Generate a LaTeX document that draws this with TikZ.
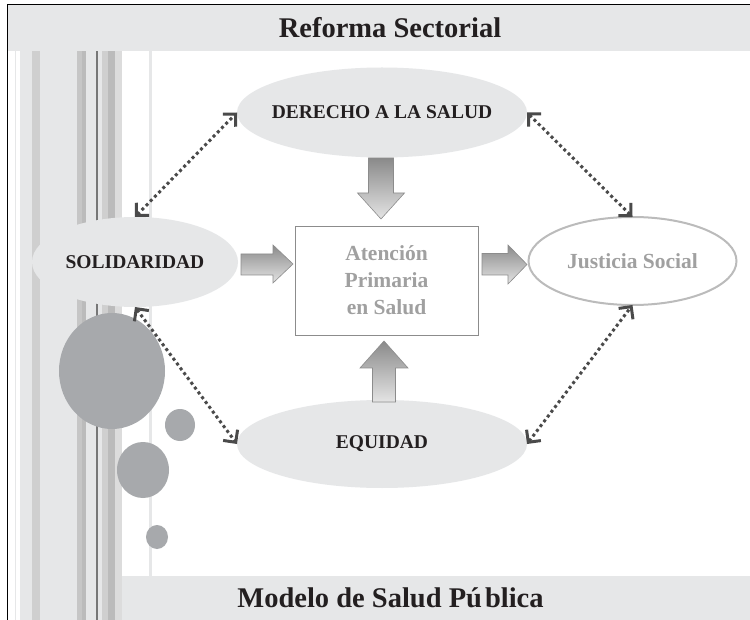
\documentclass[tikz,border=0pt]{standalone}
\usepackage{fontspec}
\setmainfont{Liberation Serif}
\usetikzlibrary{shapes.geometric,arrows.meta}
\definecolor{bg}{HTML}{E6E7E8}
\definecolor{sA}{HTML}{CFCFCF}
\definecolor{sB}{HTML}{C6C6C6}
\definecolor{sC}{HTML}{BBBBBB}
\definecolor{sD}{HTML}{DCDCDC}
\definecolor{dl}{HTML}{777777}
\definecolor{cg}{HTML}{A7A9AC}
\definecolor{txt}{HTML}{231F20}
\definecolor{lt}{HTML}{A0A0A0}
\definecolor{dotc}{HTML}{4A4A4A}
\definecolor{agA}{HTML}{8A8A8A}
\definecolor{agB}{HTML}{E4E4E4}
\definecolor{agE}{HTML}{8C8C8C}
\newcommand{\zw}[1]{\makebox[0pt][c]{#1}}
\tikzset{
  ell/.style={ellipse, fill=bg, inner sep=0pt, outer sep=0pt, text=txt,
    font=\fontsize{19.5}{22}\selectfont\bfseries},
  jell/.style={ellipse, fill=white, draw=sC, line width=2pt, inner sep=0pt, outer sep=0pt,
    text=lt, font=\fontsize{21.5}{26}\selectfont\bfseries},
  apsbox/.style={draw=agE, line width=0.8pt, fill=white, align=center, text=lt,
    inner sep=0pt, font=\fontsize{21.5}{27}\selectfont\bfseries},
  ttl/.style={text=txt, font=\fontsize{28.5}{32}\selectfont\bfseries, anchor=base, inner sep=0pt},
  barb/.tip={Straight Barb[length=9pt,width=18pt,line width=3pt]},
  dots/.style={draw=dotc, line width=3pt, dash pattern=on 3pt off 3pt, barb-barb},
  blockarr/.style={top color=agA, bottom color=agB, draw=agE, line width=0.6pt},
}
\begin{document}
\begin{tikzpicture}[x=1pt,y=-1pt]
\useasboundingbox (0,0) rectangle (750,620);
\fill[white] (0,0) rectangle (750,620);
% top banner
\fill[bg] (8,5) rectangle (750,51);
% stripes
\fill[bg] (15,51) rectangle (16,620);
\fill[bg] (20,51) rectangle (32,620);
\fill[sA] (32,51) rectangle (40,620);
\fill[bg] (40,51) rectangle (77,620);
\fill[sB] (77,51) rectangle (82,620);
\fill[sC] (82,51) rectangle (86,620);
\fill[bg] (86,51) rectangle (96,620);
\fill[dl] (96,51) rectangle (97.7,620);
\fill[bg] (97.7,51) rectangle (102,620);
\fill[sA] (102,51) rectangle (107.7,620);
\fill[sC] (107.7,51) rectangle (115,620);
\fill[sD] (115,51) rectangle (121.7,620);
\fill[bg] (148.7,51) rectangle (152,576);
% bottom banner
\fill[bg] (121.7,576) rectangle (750,620);
% frame
\draw[black, line width=1pt] (7.3,620) -- (7.3,5) -- (750,5);
% titles
\node[ttl] (top) at (390,38) {Reforma Sectorial};
\node[ttl] (bot) at (390.5,607) {Modelo de Salud P\'u\kern3pt blica};
% circles
\fill[cg] (112,371) ellipse [x radius=53pt, y radius=58pt];
\fill[cg] (180,425) ellipse [x radius=15pt, y radius=16pt];
\fill[cg] (143,470) ellipse [x radius=26pt, y radius=28pt];
\fill[cg] (157,537) ellipse [x radius=11pt, y radius=12pt];
% ellipses
\node[ell, minimum width=290pt, minimum height=90pt] (der) at (382,112.5) {\zw{DERECHO A LA SALUD}};
\node[ell, minimum width=206pt, minimum height=90pt] (sol) at (135,262) {\zw{SOLIDARIDAD}};
\node[ell, minimum width=290pt, minimum height=88pt] (equ) at (382,444) {\zw{EQUIDAD}};
\node[jell, minimum width=208pt, minimum height=88pt] (jus) at (632.5,261) {\zw{Justicia Social}};
% box
\node[apsbox, minimum width=183pt, minimum height=109pt] (aps) at (386.5,280.5) {Atenci\'on\\Primaria\\en Salud};
% block arrows
\shade[blockarr] (368.5,158) -- (393.5,158) -- (393.5,193) -- (404.5,193) -- (381,219) -- (357.5,193) -- (368.5,193) -- cycle;
\shade[blockarr] (372.5,402) -- (395.5,402) -- (395.5,368) -- (408,368) -- (384,341) -- (360,368) -- (372.5,368) -- cycle;
\shade[blockarr] (241,254) -- (273,254) -- (273,245) -- (293,264) -- (273,283) -- (273,275) -- (241,275) -- cycle;
\shade[blockarr] (482,253.5) -- (508,253.5) -- (508,245) -- (527,264.5) -- (508,284) -- (508,275) -- (482,275) -- cycle;
% dotted double arrows
\draw[dots] (sol.north) -- (der.west);
\draw[dots] (der.east) -- (jus.north);
\draw[dots] (sol.south) -- (equ.west);
\draw[dots] (equ.east) -- (jus.south);
\end{tikzpicture}
\end{document}
